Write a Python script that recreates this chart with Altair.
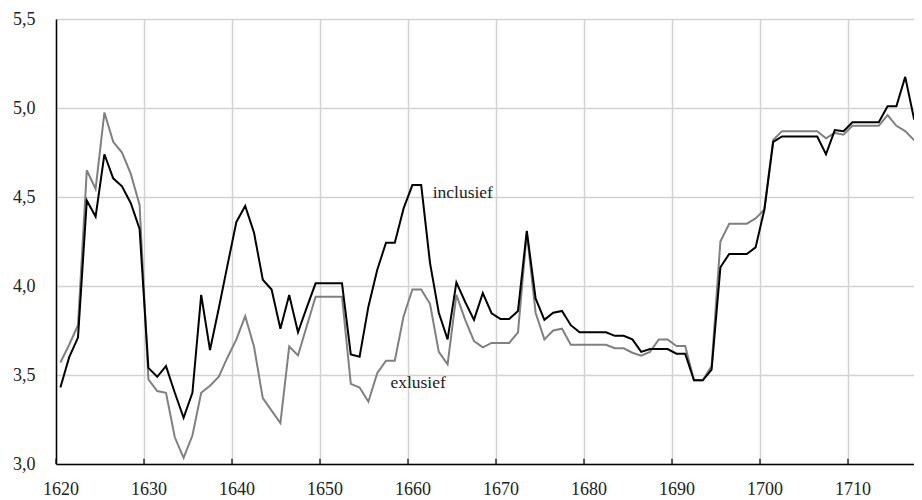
import altair as alt
import pandas as pd

years = list(range(1620, 1719))

inclusief = [
    3.43, 3.60, 3.71, 4.48, 4.39, 4.74, 4.605, 4.56, 4.465, 4.32,
    3.54, 3.49, 3.55, 3.40, 3.26, 3.40, 3.95, 3.64, 3.875, 4.12,
    4.36, 4.45, 4.30, 4.035, 3.98, 3.76, 3.95, 3.74, 3.88, 4.015,
    4.015, 4.015, 4.015, 3.616, 3.603, 3.884, 4.09, 4.243, 4.243, 4.436,
    4.567, 4.567, 4.13, 3.85, 3.70, 4.02, 3.91, 3.81, 3.96, 3.847,
    3.815, 3.815, 3.86, 4.31, 3.93, 3.81, 3.85, 3.86, 3.78, 3.74,
    3.74, 3.74, 3.74, 3.72, 3.72, 3.70, 3.63, 3.646, 3.646, 3.646,
    3.62, 3.62, 3.47, 3.47, 3.53, 4.105, 4.18, 4.18, 4.18, 4.217,
    4.43, 4.81, 4.84, 4.84, 4.84, 4.84, 4.84, 4.74, 4.876, 4.87,
    4.92, 4.92, 4.92, 4.92, 5.01, 5.01, 5.175, 4.94, 4.94,
]

exclusief = [
    3.57, 3.67, 3.78, 4.65, 4.545, 4.975, 4.81, 4.75, 4.63, 4.455,
    3.475, 3.41, 3.40, 3.15, 3.035, 3.16, 3.40, 3.44, 3.49, 3.60,
    3.70, 3.83, 3.66, 3.37, 3.30, 3.23, 3.66, 3.61, 3.775, 3.94,
    3.94, 3.94, 3.94, 3.45, 3.43, 3.35, 3.51, 3.58, 3.58, 3.83,
    3.98, 3.98, 3.90, 3.63, 3.56, 3.95, 3.81, 3.69, 3.655, 3.68,
    3.68, 3.68, 3.74, 4.30, 3.85, 3.70, 3.75, 3.76, 3.67, 3.67,
    3.67, 3.67, 3.67, 3.65, 3.65, 3.625, 3.608, 3.63, 3.70, 3.70,
    3.663, 3.663, 3.47, 3.47, 3.55, 4.25, 4.35, 4.35, 4.35, 4.38,
    4.43, 4.82, 4.87, 4.87, 4.87, 4.87, 4.87, 4.83, 4.86, 4.85,
    4.90, 4.90, 4.90, 4.90, 4.96, 4.90, 4.87, 4.82, 4.82,
]

decades = list(range(1620, 1720, 10))
y_ticks = [3.0, 3.5, 4.0, 4.5, 5.0, 5.5]

label_names = ["inclusief", "exlusief"]
label_years = [1662.8, 1658.0]
label_values = [4.52, 3.455]

df = pd.DataFrame({"year": years, "inclusief": inclusief, "exclusief": exclusief})
df["xpos"] = df["year"] + 0.5  # category centre
labels_df = pd.DataFrame({"name": label_names, "x": label_years, "y": label_values})
ticks_df = pd.DataFrame({"x": decades})

FONT = "Liberation Serif"
xscale = alt.Scale(domain=[1620, 1718.41], nice=False, zero=False)
yscale = alt.Scale(domain=[3.0, 5.5], nice=False, zero=False)

xaxis = alt.Axis(
    values=decades, format="d", labelOffset=4.6, ticks=False, grid=True,
    gridColor="#d2d2d2", gridWidth=1.5, domainColor="black", domainWidth=1.5,
    labelFont=FONT, labelFontSize=18, labelColor="#222222", labelPadding=16,
    labelFlush=False, title=None,
)
yaxis = alt.Axis(
    values=y_ticks, labelExpr="replace(format(datum.value, '.1f'), '.', ',')",
    ticks=False, grid=True, gridColor="#d2d2d2", gridWidth=1.5,
    domainColor="black", domainWidth=1.5, labelFont=FONT, labelFontSize=18,
    labelColor="#222222", labelPadding=21, labelFlush=False, title=None,
)

base = alt.Chart(df)
gray = base.mark_line(color="#808080", strokeWidth=2, clip=True).encode(
    x=alt.X("xpos:Q", scale=xscale, axis=xaxis),
    y=alt.Y("exclusief:Q", scale=yscale, axis=yaxis),
)
black = base.mark_line(color="#000000", strokeWidth=2, clip=True).encode(
    x=alt.X("xpos:Q", scale=xscale, axis=xaxis),
    y=alt.Y("inclusief:Q", scale=yscale, axis=yaxis),
)
ticks = alt.Chart(ticks_df).mark_rule(color="black", strokeWidth=1.2).encode(
    x=alt.X("x:Q", scale=xscale, axis=xaxis),
    y=alt.datum(3.0, scale=yscale, axis=yaxis),
    y2=alt.datum(3.03),
)
texts = alt.Chart(labels_df).mark_text(
    align="left", baseline="middle", font=FONT, fontSize=17.5, color="#222222"
).encode(
    x=alt.X("x:Q", scale=xscale, axis=xaxis),
    y=alt.Y("y:Q", scale=yscale, axis=yaxis),
    text="name:N",
)

chart = alt.layer(gray, black, ticks, texts).properties(
    width=866, height=445,
    autosize=alt.AutoSizeParams(type="none"),
    padding={"left": 48, "top": 11, "right": -8, "bottom": 42},
    background="white",
).configure_view(stroke=None)

chart.save("out.html", embed_options={"renderer": "svg", "actions": False})
